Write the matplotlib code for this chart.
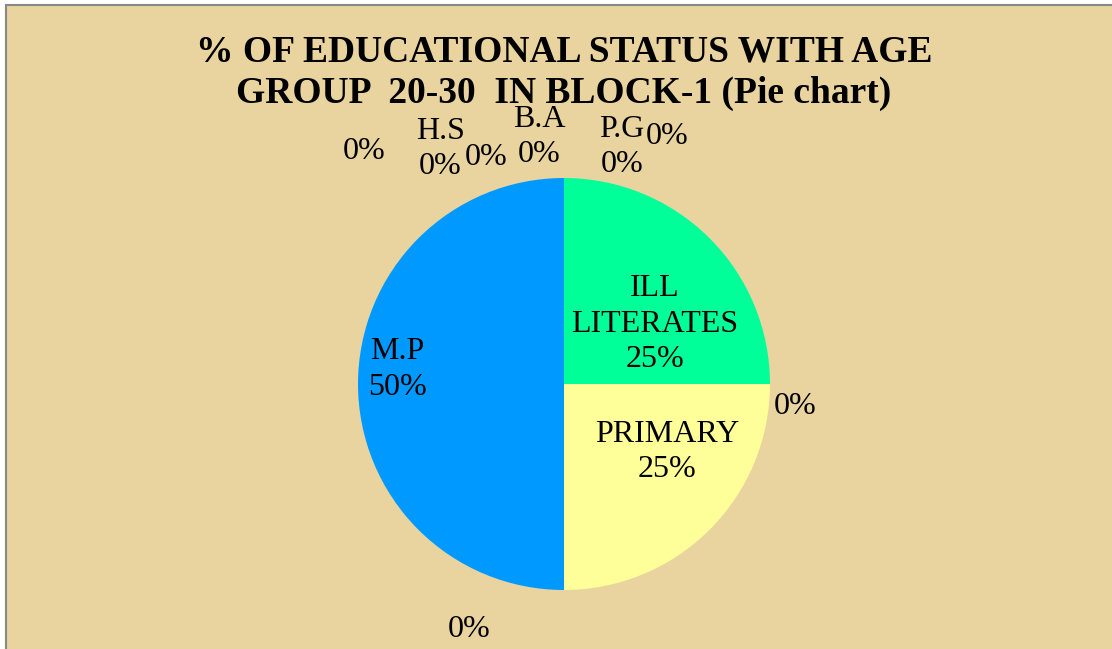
import matplotlib.pyplot as plt
from matplotlib.patches import Rectangle

# dati del grafico (Excel: ordine orario a partire dalle 12)
categories = ['ILL\nLITERATES', '', 'PRIMARY', '', 'M.P', '', 'H.S', '', 'B.A', 'P.G', '']
values = [25, 0, 25, 0, 50, 0, 0, 0, 0, 0, 0]
colors = ['#00FF99', '#FF9900', '#FFFF99', '#CC99FF', '#0099FF',
          '#FF0000', '#33CCCC', '#999999', '#FF00FF', '#996633', '#00CC00']
title = '% OF EDUCATIONAL STATUS WITH AGE\nGROUP  20-30  IN BLOCK-1 (Pie chart)'

# posizione delle etichette (coordinate rispetto al centro, in raggi)
label_pos = [(0.44, 0.29), (1.12, -0.11), (0.50, -0.33), (-0.46, -1.19),
             (-0.81, 0.07), (-0.97, 1.13), (-0.60, 1.14), (-0.38, 1.10),
             (-0.12, 1.20), (0.28, 1.15), (0.50, 1.20)]

W, H = 1112, 649
fig = plt.figure(figsize=(W / 100, H / 100), dpi=100)
fig.patch.set_facecolor('white')

# sfondo tipo pergamena con bordo grigio
bg = fig.add_axes([0, 0, 1, 1])
bg.set_xlim(0, W)
bg.set_ylim(H, 0)
bg.axis('off')
bg.add_patch(Rectangle((6, 5), W, H, facecolor='#E9D49F', edgecolor='#888888', lw=1.5))

cx, cy, r = 564, 384, 206
ax = fig.add_axes([(cx - r) / W, (H - cy - r) / H, 2 * r / W, 2 * r / H])
ax.pie(values, colors=colors, startangle=90, counterclock=False, radius=1)
ax.set_xlim(-1, 1)
ax.set_ylim(-1, 1)
ax.set_aspect('equal')
ax.axis('off')

for cat, v, (x, y) in zip(categories, values, label_pos):
    txt = f'{v}%' if cat == '' else f'{cat}\n{v}%'
    ax.text(x, y, txt, ha='center', va='center', fontsize=23,
            family='Liberation Serif', linespacing=1.3, clip_on=False)

fig.text(564 / W, 1 - 73 / H, title, ha='center', va='center', fontsize=27,
         fontweight='bold', family='Liberation Serif', linespacing=1.25)

fig.savefig('out.png', dpi=100)
